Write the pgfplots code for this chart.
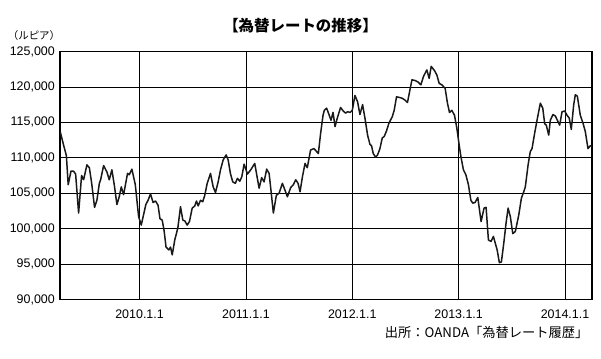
\documentclass[border=0pt]{standalone}
\usepackage{pgfplots}
\pgfplotsset{compat=1.18}
\usepackage{pgfplotstable}
\usepackage{fontspec}
\setmainfont{Liberation Sans}
\newfontfamily\cjk{Noto Sans CJK JP}

\pgfplotstableread{
year value
2009.254 113700
2009.289 111600
2009.312 110300
2009.329 106200
2009.355 108100
2009.380 108100
2009.399 107700
2009.427 102200
2009.455 107500
2009.474 106900
2009.505 109000
2009.528 108600
2009.549 106500
2009.577 103000
2009.599 104000
2009.622 106400
2009.634 106900
2009.662 108900
2009.693 108000
2009.715 106900
2009.740 108300
2009.765 105900
2009.787 103400
2009.809 104500
2009.828 105900
2009.850 104800
2009.887 107800
2009.903 107600
2009.928 108400
2009.960 106200
2009.991 101700
2010.016 100500
2010.059 103400
2010.080 104000
2010.103 104900
2010.127 103700
2010.150 103900
2010.174 103300
2010.192 101400
2010.213 101200
2010.230 99800
2010.249 97400
2010.275 97000
2010.291 97400
2010.307 96300
2010.331 98400
2010.360 100100
2010.385 103100
2010.407 101200
2010.425 101100
2010.448 100500
2010.469 101000
2010.495 102900
2010.519 103200
2010.535 103900
2010.551 103200
2010.573 104000
2010.594 103800
2010.613 104700
2010.636 106400
2010.667 107800
2010.692 105900
2010.714 105100
2010.739 106600
2010.761 108300
2010.786 109700
2010.814 110400
2010.833 109700
2010.854 107800
2010.876 106600
2010.901 106400
2010.920 107100
2010.942 106700
2010.961 107300
2010.983 109100
2011.014 107700
2011.045 108300
2011.083 109200
2011.124 105700
2011.148 107200
2011.171 106600
2011.195 108400
2011.218 107800
2011.237 105200
2011.258 102200
2011.286 104700
2011.312 105000
2011.343 106400
2011.368 105400
2011.390 104500
2011.421 105800
2011.446 106200
2011.468 106900
2011.490 106400
2011.509 105200
2011.531 107300
2011.556 109200
2011.577 108600
2011.608 111100
2011.640 111300
2011.681 110600
2011.702 113400
2011.725 116000
2011.737 116700
2011.759 117000
2011.781 116100
2011.800 115300
2011.819 116400
2011.838 114400
2011.859 115600
2011.890 117100
2011.915 116600
2011.937 116300
2011.956 116500
2011.981 116400
2012.000 116700
2012.025 118800
2012.050 117900
2012.072 116100
2012.097 117500
2012.119 115600
2012.144 113200
2012.166 111900
2012.181 111700
2012.197 110600
2012.219 110100
2012.238 110400
2012.260 111300
2012.282 112800
2012.300 113000
2012.322 113800
2012.345 114900
2012.376 115800
2012.394 116700
2012.416 118600
2012.448 118500
2012.469 118400
2012.495 118150
2012.519 117800
2012.545 119800
2012.561 121000
2012.592 120900
2012.617 120700
2012.645 120300
2012.670 121500
2012.701 122400
2012.723 121200
2012.742 122900
2012.773 122300
2012.795 121700
2012.817 120500
2012.842 120300
2012.873 119800
2012.895 117700
2012.914 116400
2012.936 116700
2012.961 116000
2012.983 114200
2013.005 111800
2013.021 110200
2013.045 108300
2013.068 107600
2013.092 106200
2013.115 104000
2013.133 103600
2013.155 103700
2013.180 104400
2013.211 101000
2013.239 102900
2013.258 103000
2013.280 98400
2013.305 98200
2013.327 98900
2013.349 97700
2013.362 97000
2013.383 95200
2013.402 95300
2013.424 97900
2013.446 100800
2013.465 102900
2013.486 101700
2013.509 99300
2013.533 99600
2013.565 101900
2013.590 104300
2013.612 105200
2013.627 105900
2013.653 109000
2013.674 110900
2013.690 111300
2013.715 113500
2013.737 115300
2013.768 117700
2013.791 117000
2013.809 114800
2013.824 114600
2013.847 113200
2013.862 115300
2013.887 116100
2013.909 115900
2013.931 115200
2013.950 114600
2013.972 116500
2013.997 116600
2014.019 116000
2014.040 115600
2014.059 114000
2014.082 117500
2014.097 118900
2014.116 118700
2014.144 116000
2014.169 114900
2014.191 113700
2014.216 111300
2014.238 111700
2014.254 111600
}\ratedata

\begin{document}
\begin{tikzpicture}[x=1bp,y=1bp]
\path[use as bounding box] (0,0) rectangle (601,358);
\begin{axis}[
  at={(60bp,58.5bp)}, anchor=south west,
  scale only axis, width=532bp, height=248bp,
  xmin=2009.252, xmax=2014.254,
  ymin=90000, ymax=125000,
  xtick={2010,2011,2012,2013,2014},
  xticklabels={2010.1.1,2011.1.1,2012.1.1,2013.1.1,2014.1.1},
  ytick={90000,95000,100000,105000,110000,115000,120000,125000},
  scaled ticks=false,
  /pgf/number format/.cd, fixed, 1000 sep={,}, assume math mode=true,
  /pgfplots/.cd,
  grid=major,
  major grid style={black, line width=0.7bp},
  axis line style={black, line width=1.1bp},
  major tick length=0pt,
  tick label style={font=\fontsize{12.5}{14}\selectfont, inner sep=0pt},
  xticklabel style={anchor=north, yshift=-10.5bp},
  yticklabel style={anchor=east, xshift=-5bp},
  clip=true,
]
\addplot[color=black!90, line width=1.5bp, line join=round, mark=none] table[x=year, y=value] {\ratedata};
\end{axis}
\node[font=\cjk\bfseries\fontsize{15.5}{17}\selectfont, anchor=center] at (300.5,332.5) {【為替レートの推移】};
\node[font=\cjk\fontsize{10.5}{12}\selectfont, anchor=center] at (34,322) {（ルピア）};
\node[font=\cjk\fontsize{13.3}{15}\selectfont, anchor=east, inner sep=0pt] at (588.5,26) {出所：OANDA「為替レート履歴」};
\end{tikzpicture}
\end{document}
